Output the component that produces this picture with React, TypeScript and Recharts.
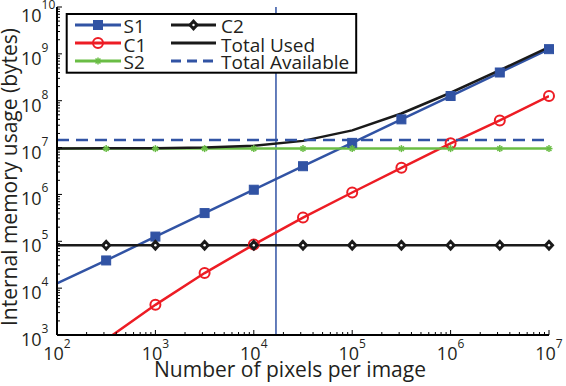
import { LineChart, Line, XAxis, YAxis, ReferenceLine, Legend, Label } from "recharts";

// pixels per image (half-decade steps)
const xValues = [100, 316, 1000, 3162, 10000, 31623, 100000, 316228, 1000000, 3162278, 10000000];
const s1 = [1.26e4, 3.9e4, 1.26e5, 4.0e5, 1.26e6, 4.0e6, 1.26e7, 4.0e7, 1.26e8, 4.0e8, 1.26e9];
const c1 = [1.4e2, 8.0e2, 4.4e3, 2.1e4, 8.5e4, 3.2e5, 1.1e6, 3.7e6, 1.23e7, 3.8e7, 1.26e8];
const s2 = [9.5e6, 9.5e6, 9.5e6, 9.5e6, 9.5e6, 9.5e6, 9.5e6, 9.5e6, 9.5e6, 9.5e6, 9.5e6];
const c2 = [8.2e4, 8.2e4, 8.2e4, 8.2e4, 8.2e4, 8.2e4, 8.2e4, 8.2e4, 8.2e4, 8.2e4, 8.2e4];
const totalUsed = [9.6e6, 9.62e6, 9.71e6, 1.0e7, 1.09e7, 1.39e7, 2.33e7, 5.33e7, 1.48e8, 4.48e8, 1.4e9];
const totalAvailable = [1.45e7, 1.45e7, 1.45e7, 1.45e7, 1.45e7, 1.45e7, 1.45e7, 1.45e7, 1.45e7, 1.45e7, 1.45e7];
const threshold = 1.68e4;

const xMajorTicks = [1e2, 1e3, 1e4, 1e5, 1e6, 1e7];
const yMajorTicks = [1e3, 1e4, 1e5, 1e6, 1e7, 1e8, 1e9, 1e10];
const X_MIN = 1e2, X_MAX = 1e7, Y_MIN = 1e3, Y_MAX = 1e10;

const BLUE = "#3153A4";
const RED = "#ED1C24";
const GREEN = "#6ABD45";
const BLACK = "#1A1A1A";
const TEXT = "#231F20";
const FONT = "'Open Sans', sans-serif";

const withMinor = (majors: number[]) => {
  const out: number[] = [];
  majors.forEach((m, i) => {
    out.push(m);
    if (i < majors.length - 1) for (let k = 2; k <= 9; k++) out.push(m * k);
  });
  return out;
};
const xTicks = withMinor(xMajorTicks);
const yTicks = withMinor(yMajorTicks);

const data = xValues.map((x, i) => ({
  x,
  s1: s1[i],
  c1: c1[i],
  c1Mark: c1[i] >= Y_MIN ? c1[i] : null,
  s2: s2[i],
  c2: c2[i],
  used: totalUsed[i],
  avail: totalAvailable[i],
}));

const isMajor = (v: number) => Math.abs(Math.log10(v) - Math.round(Math.log10(v))) < 1e-6;

type Shape = "square" | "circle" | "star" | "diamond";

function Marker({ shape, cx, cy }: { shape: Shape; cx: number; cy: number }) {
  if (shape === "square")
    return <rect x={cx - 4.5} y={cy - 4.5} width={9} height={9} fill={BLUE} stroke={BLUE} strokeWidth={1} />;
  if (shape === "circle")
    return <circle cx={cx} cy={cy} r={5} fill="none" stroke={RED} strokeWidth={2} />;
  if (shape === "diamond")
    return (
      <g>
        <polygon points={`${cx},${cy - 6} ${cx + 5.5},${cy} ${cx},${cy + 6} ${cx - 5.5},${cy}`} fill={BLACK} />
        <circle cx={cx} cy={cy} r={1.2} fill="#fff" />
      </g>
    );
  const a = 3.5;
  return (
    <g stroke={GREEN} strokeWidth={1.5}>
      <line x1={cx - a} y1={cy} x2={cx + a} y2={cy} />
      <line x1={cx} y1={cy - a} x2={cx} y2={cy + a} />
      <line x1={cx - a * 0.7} y1={cy - a * 0.7} x2={cx + a * 0.7} y2={cy + a * 0.7} />
      <line x1={cx - a * 0.7} y1={cy + a * 0.7} x2={cx + a * 0.7} y2={cy - a * 0.7} />
    </g>
  );
}

const makeDot = (shape: Shape) => (props: any) => {
  const { cx, cy, index } = props;
  if (index === 0 || cx == null || cy == null || isNaN(cy)) return <g key={`d-${shape}-${index}`} />;
  return (
    <g key={`d-${shape}-${index}`}>
      <Marker shape={shape} cx={cx} cy={cy} />
    </g>
  );
};

function XTick(props: any) {
  const { x, y, payload, top } = props;
  const v = payload.value;
  const major = isMajor(v);
  const len = major ? 5 : 3;
  const dir = top ? 1 : -1;
  return (
    <g>
      <line x1={x} x2={x} y1={y} y2={y + dir * len} stroke="#000" strokeWidth={1} />
      {major && !top && (
        <text x={x} y={y + 25} textAnchor="middle" fontFamily={FONT} fontSize={18} fill={TEXT}>
          10
          <tspan dy={-12} fontSize={12}>{Math.round(Math.log10(v))}</tspan>
        </text>
      )}
    </g>
  );
}

function YTick(props: any) {
  const { x, y, payload, right } = props;
  const v = payload.value;
  const major = isMajor(v);
  const len = major ? 5 : 3;
  const dir = right ? -1 : 1;
  // keep the top label inside the picture, as the original does
  const base = Math.max(y + 11, 22);
  return (
    <g>
      <line x1={x} x2={x + dir * len} y1={y} y2={y} stroke="#000" strokeWidth={1} />
      {major && !right && (
        <text x={x - 36} y={base} textAnchor="start" fontFamily={FONT} fontSize={18} fill={TEXT}>
          10
          <tspan dy={-13} fontSize={12}>{Math.round(Math.log10(v))}</tspan>
        </text>
      )}
    </g>
  );
}

const legendItems = [
  { name: "S1", color: BLUE, shape: "square" as Shape, dash: undefined, col: 0, row: 0 },
  { name: "C1", color: RED, shape: "circle" as Shape, dash: undefined, col: 0, row: 1 },
  { name: "S2", color: GREEN, shape: "star" as Shape, dash: undefined, col: 0, row: 2 },
  { name: "C2", color: BLACK, shape: "diamond" as Shape, dash: undefined, col: 1, row: 0 },
  { name: "Total Used", color: BLACK, shape: null, dash: undefined, col: 1, row: 1 },
  { name: "Total Available", color: BLUE, shape: null, dash: "10 6", col: 1, row: 2 },
];

function LegendBox() {
  const cols = [
    { x1: 75, x2: 121, tx: 123.5 },
    { x1: 171, x2: 216, tx: 221 },
  ];
  const lineY = [25, 43, 61];
  const baseY = [33, 51.5, 69];
  return (
    <svg width={566} height={80} style={{ display: "block" }}>
      <rect x={66.7} y={14} width={289.5} height={58.7} fill="#fff" stroke="#000" strokeWidth={2} />
      {legendItems.map((it) => {
        const c = cols[it.col];
        const ly = lineY[it.row];
        return (
          <g key={it.name}>
            <line x1={c.x1} x2={c.x2} y1={ly} y2={ly} stroke={it.color} strokeWidth={2.8} strokeDasharray={it.dash} />
            {it.shape && <Marker shape={it.shape} cx={(c.x1 + c.x2) / 2} cy={ly} />}
            <text x={c.tx} y={baseY[it.row]} fontFamily={FONT} fontSize={19} fill={TEXT}>
              {it.name}
            </text>
          </g>
        );
      })}
    </svg>
  );
}

export default function App() {
  return (
    <div style={{ position: "absolute", left: 0, top: 0 }}>
      <LineChart width={566} height={386} data={data} margin={{ top: 7, right: 17, left: 0, bottom: 0 }}>
        <XAxis
          xAxisId="b"
          dataKey="x"
          type="number"
          scale="log"
          domain={[X_MIN, X_MAX]}
          ticks={xTicks}
          interval={0}
          tickSize={0}
          tickMargin={0}
          height={51}
          axisLine={{ stroke: "#000", strokeWidth: 2 }}
          tick={<XTick />}
        >
          <Label
            content={() => (
              <text x={290} y={377} textAnchor="middle" fontFamily={FONT} fontSize={21} fill={TEXT}>
                Number of pixels per image
              </text>
            )}
          />
        </XAxis>
        <XAxis
          xAxisId="t"
          orientation="top"
          dataKey="x"
          type="number"
          scale="log"
          domain={[X_MIN, X_MAX]}
          allowDataOverflow
          ticks={xTicks}
          interval={0}
          tickSize={0}
          tickMargin={0}
          height={0}
          axisLine={{ stroke: "#000", strokeWidth: 2 }}
          tick={<XTick top />}
        />
        <YAxis
          yAxisId="l"
          type="number"
          scale="log"
          domain={[Y_MIN, Y_MAX]}
          ticks={yTicks}
          interval={0}
          tickSize={0}
          tickMargin={0}
          width={57}
          axisLine={{ stroke: "#000", strokeWidth: 2 }}
          tick={<YTick />}
        >
          <Label
            content={() => (
              <text
                x={17}
                y={177}
                transform="rotate(-90 17 177)"
                textAnchor="middle"
                fontFamily={FONT}
                fontSize={21}
                fill={TEXT}
              >
                Internal memory usage (bytes)
              </text>
            )}
          />
        </YAxis>
        <YAxis
          yAxisId="r"
          orientation="right"
          type="number"
          scale="log"
          domain={[Y_MIN, Y_MAX]}
          allowDataOverflow
          ticks={yTicks}
          interval={0}
          tickSize={0}
          tickMargin={0}
          width={0}
          axisLine={{ stroke: "#000", strokeWidth: 2 }}
          tick={<YTick right />}
        />

        <ReferenceLine xAxisId="b" yAxisId="l" x={threshold} stroke={BLUE} strokeWidth={1.5} />

        <Line xAxisId="b" yAxisId="l" dataKey="s1" stroke={BLUE} strokeWidth={2.5} dot={makeDot("square")} isAnimationActive={false} />
        {/* C1 runs below 10^3 at the left, so it sits on the clipping (right/top) axes */}
        <Line xAxisId="t" yAxisId="r" dataKey="c1" stroke={RED} strokeWidth={2.5} dot={false} isAnimationActive={false} />
        <Line xAxisId="b" yAxisId="l" dataKey="c1Mark" stroke="none" dot={makeDot("circle")} isAnimationActive={false} />
        <Line xAxisId="b" yAxisId="l" dataKey="s2" stroke={GREEN} strokeWidth={2.5} dot={makeDot("star")} isAnimationActive={false} />
        <Line xAxisId="b" yAxisId="l" dataKey="c2" stroke={BLACK} strokeWidth={2.5} dot={makeDot("diamond")} isAnimationActive={false} />
        <Line xAxisId="b" yAxisId="l" dataKey="used" stroke={BLACK} strokeWidth={2.5} dot={false} isAnimationActive={false} />
        <Line xAxisId="b" yAxisId="l" dataKey="avail" stroke={BLUE} strokeWidth={2.5} strokeDasharray="12 7" dot={false} isAnimationActive={false} />

        <Legend
          layout="horizontal"
          verticalAlign="middle"
          align="center"
          wrapperStyle={{ position: "absolute", left: 0, top: 0, width: 566, height: 80, margin: 0, padding: 0 }}
          content={() => <LegendBox />}
        />
      </LineChart>
    </div>
  );
}
